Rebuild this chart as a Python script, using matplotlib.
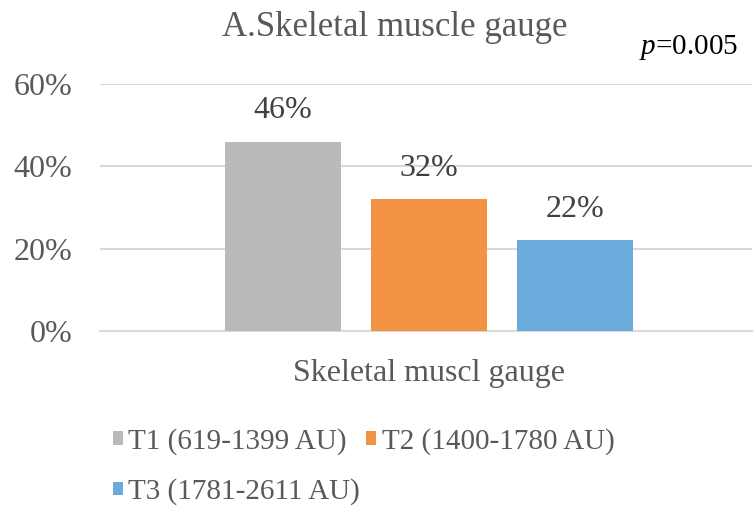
import matplotlib
matplotlib.use("Agg")
import matplotlib.pyplot as plt
from matplotlib.ticker import FuncFormatter

plt.rcParams['font.family'] = ['Liberation Serif', 'DejaVu Serif']
plt.rcParams['mathtext.fontset'] = 'custom'
plt.rcParams['mathtext.rm'] = 'Liberation Serif'
plt.rcParams['mathtext.it'] = 'Liberation Serif:italic'

# Data
groups = ["T1 (619-1399 AU)", "T2 (1400-1780 AU)", "T3 (1781-2611 AU)"]
values = [0.46, 0.32, 0.22]
colors = ["#BBBAB9", "#F19343", "#6BABDB"]
category = "Skeletal muscl gauge"
title = "A.Skeletal muscle gauge"
p_text = r"$\it{p}$=0.005"
yticks = [0.0, 0.2, 0.4, 0.6]

W, H = 754, 511
fig = plt.figure(figsize=(W / 100, H / 100), dpi=100)
ax = fig.add_axes([100 / W, 1 - 331 / H, 652 / W, (331 - 84) / H])

bar_w = 0.178
step = 0.224
handles = []
for i, (g, v, c) in enumerate(zip(groups, values, colors)):
    x = (i - 1) * step + 0.004
    b = ax.bar(x, v, width=bar_w, color=c, label=g, zorder=3)
    handles.append(b)
    ax.annotate(f"{v:.0%}", (x, v), xytext=(0, 12), textcoords="offset points",
                ha="center", va="bottom", fontsize=23, color="#404040")

ax.set_xlim(-0.5, 0.5)
ax.set_ylim(0, 0.6)
ax.set_yticks(yticks)
ax.yaxis.set_major_formatter(FuncFormatter(lambda v, _: f"{v:.0%}"))
ax.tick_params(axis="y", length=0, pad=20, labelsize=23, labelcolor="#595959")
ax.set_xticks([])
ax.grid(axis="y", color="#D9D9D9", linewidth=1.5, zorder=0)
for s in ["top", "right", "left"]:
    ax.spines[s].set_visible(False)
ax.spines["bottom"].set_color("#D9D9D9")
ax.spines["bottom"].set_linewidth(1.5)

fig.text(429 / W, 1 - 373 / H, category, ha="center", va="center",
         fontsize=23, color="#595959")
fig.text(395 / W, 1 - 28 / H, title, ha="center", va="center",
         fontsize=25, color="#595959")
fig.text(738 / W, 1 - 48 / H, p_text, ha="right", va="center",
         fontsize=21, color="black")

# Legend: ordering places T1, T2 on first row and T3 on second
order = [0, 2, 1]
leg = fig.legend([handles[i] for i in order], [groups[i] for i in order],
                 ncol=2, loc="upper left", bbox_to_anchor=(113 / W, 1 - 428 / H),
                 frameon=False, fontsize=21, handlelength=0.33, handleheight=0.33,
                 handletextpad=0.2, columnspacing=0.2, labelspacing=0.8,
                 borderaxespad=0, borderpad=0)
for t in leg.get_texts():
    t.set_color("#595959")

fig.savefig("out.png", dpi=100)
